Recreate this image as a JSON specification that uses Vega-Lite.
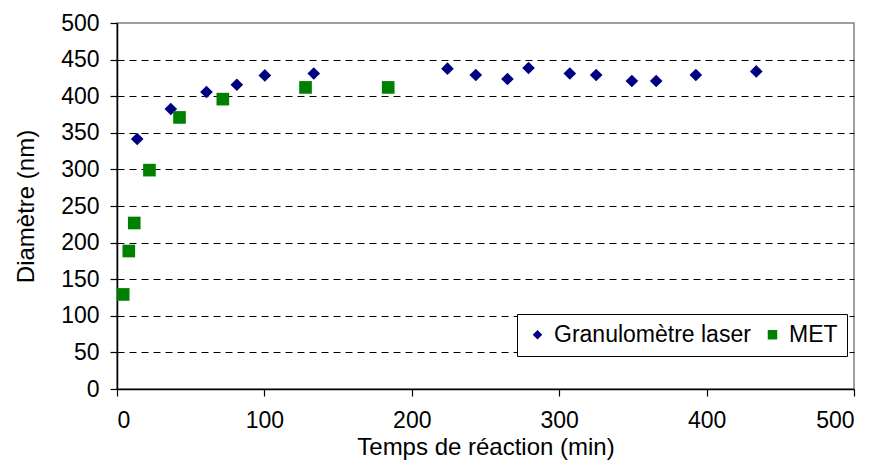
{
  "$schema": "https://vega.github.io/schema/vega-lite/v6.json",
  "width": 737,
  "height": 366,
  "autosize": "none",
  "padding": {"left": 117, "top": 23, "right": 27, "bottom": 75},
  "background": "white",
  "config": {
    "font": "Liberation Sans",
    "view": {"stroke": "#808080", "strokeWidth": 1.5},
    "axis": {
      "labelFont": "Liberation Sans",
      "titleFont": "Liberation Sans",
      "labelFontSize": 23,
      "titleFontSize": 24,
      "labelColor": "black",
      "titleColor": "black",
      "titleFontWeight": "normal",
      "domainColor": "black",
      "domainWidth": 1.5,
      "tickColor": "black",
      "tickWidth": 1.2,
      "tickSize": 7
    },
    "legend": {
      "labelFont": "Liberation Sans",
      "labelFontSize": 23,
      "labelColor": "black",
      "labelLimit": 500
    }
  },
  "data": {
    "values": [
      {"series": "Granulomètre laser", "t": 13.7, "d": 341.5},
      {"series": "Granulomètre laser", "t": 36.5, "d": 382.5},
      {"series": "Granulomètre laser", "t": 60.7, "d": 405.7},
      {"series": "Granulomètre laser", "t": 81.3, "d": 415.7},
      {"series": "Granulomètre laser", "t": 100.3, "d": 428.4},
      {"series": "Granulomètre laser", "t": 133.5, "d": 431},
      {"series": "Granulomètre laser", "t": 224.2, "d": 437.6},
      {"series": "Granulomètre laser", "t": 243.4, "d": 429},
      {"series": "Granulomètre laser", "t": 264.9, "d": 423.5},
      {"series": "Granulomètre laser", "t": 279.2, "d": 438.5},
      {"series": "Granulomètre laser", "t": 307.2, "d": 431},
      {"series": "Granulomètre laser", "t": 325.1, "d": 429},
      {"series": "Granulomètre laser", "t": 349.3, "d": 420.8},
      {"series": "Granulomètre laser", "t": 365.8, "d": 420.8},
      {"series": "Granulomètre laser", "t": 392.7, "d": 429},
      {"series": "Granulomètre laser", "t": 433.7, "d": 433.9},
      {"series": "MET", "t": 4.2, "d": 129.2},
      {"series": "MET", "t": 8.0, "d": 188.5},
      {"series": "MET", "t": 11.7, "d": 226.8},
      {"series": "MET", "t": 22.0, "d": 299},
      {"series": "MET", "t": 42.4, "d": 371},
      {"series": "MET", "t": 71.8, "d": 396},
      {"series": "MET", "t": 127.9, "d": 412},
      {"series": "MET", "t": 184.0, "d": 412}
    ]
  },
  "mark": {"type": "point", "filled": true, "opacity": 1, "size": 160},
  "encoding": {
    "x": {
      "field": "t",
      "type": "quantitative",
      "scale": {"domain": [0, 500], "nice": false},
      "axis": {
        "title": "Temps de réaction (min)",
        "values": [0, 100, 200, 300, 400, 500],
        "grid": false,
        "labelPadding": 13,
        "titlePadding": 3
      }
    },
    "y": {
      "field": "d",
      "type": "quantitative",
      "scale": {"domain": [0, 500], "nice": false},
      "axis": {
        "title": "Diamètre (nm)",
        "values": [0, 50, 100, 150, 200, 250, 300, 350, 400, 450, 500],
        "grid": true,
        "gridColor": "black",
        "gridDash": [7, 5],
        "gridWidth": 1,
        "gridOpacity": {"condition": {"test": "datum.value == 0 || datum.value == 500", "value": 0}, "value": 1},
        "labelPadding": 11,
        "titlePadding": 22
      }
    },
    "color": {
      "field": "series",
      "type": "nominal",
      "scale": {"domain": ["Granulomètre laser", "MET"], "range": ["#000080", "#008000"]},
      "legend": {
        "title": null,
        "orient": "none",
        "legendX": 400,
        "legendY": 291,
        "direction": "horizontal",
        "strokeColor": "black",
        "fillColor": "white",
        "padding": 9,
        "symbolSize": 90,
        "symbolStrokeWidth": 0,
        "columnPadding": 10,
        "labelOffset": 5
      }
    },
    "shape": {
      "field": "series",
      "type": "nominal",
      "scale": {"domain": ["Granulomètre laser", "MET"], "range": ["diamond", "square"]}
    }
  }
}
